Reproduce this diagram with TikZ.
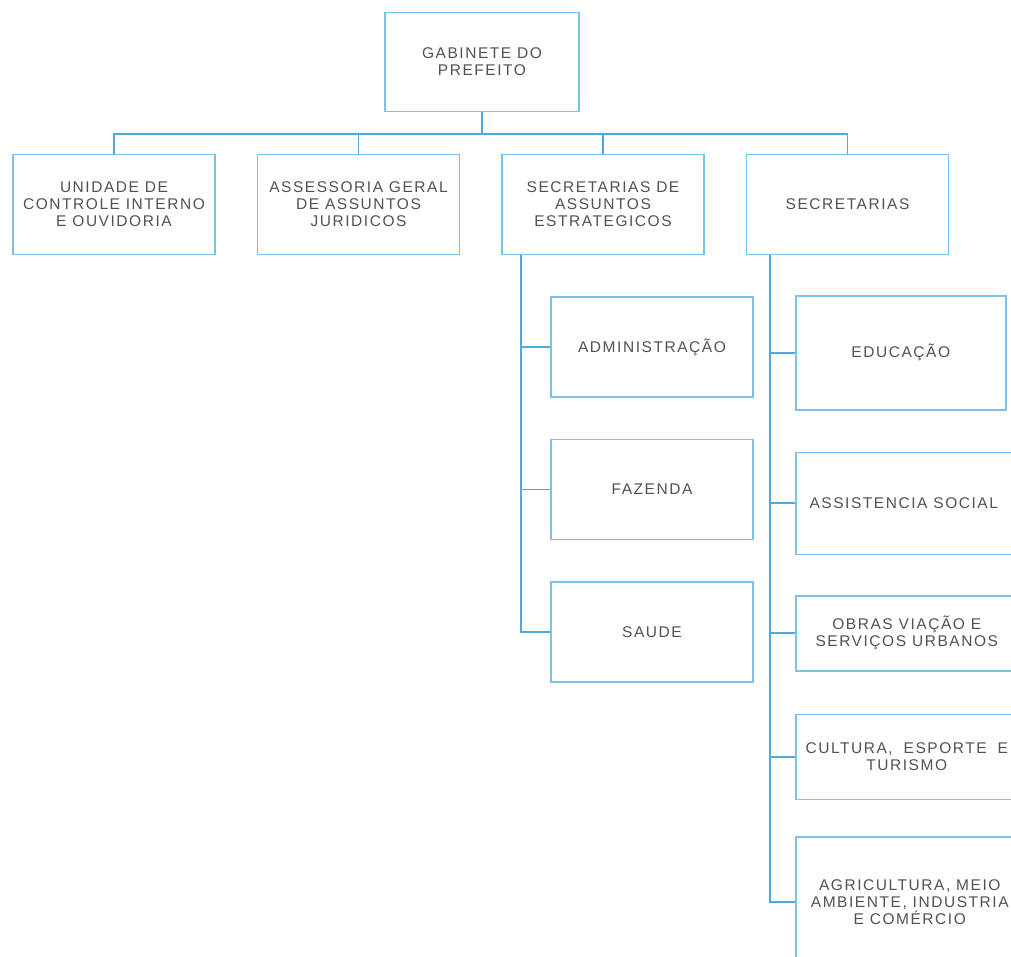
\documentclass[tikz,border=0pt]{standalone}
\usepackage{fontspec}
\newfontfamily\rotulo[LetterSpace=10]{Liberation Sans}
\usetikzlibrary{positioning}
\definecolor{borda}{RGB}{120,195,230}
\definecolor{linha}{RGB}{80,168,220}
\tikzstyle{caixa} = [rectangle, align=center, draw=borda, line width=1.5pt, text=black!68, inner sep=2pt, font=\rotulo\fontsize{15.5}{17}\selectfont]
\tikzstyle{chefe} = [caixa, minimum width=194pt, minimum height=99pt]
\tikzstyle{orgao} = [caixa, minimum width=202pt, minimum height=100pt]
\tikzstyle{secretaria} = [caixa, anchor=north west]
\tikzstyle{ligacao} = [draw=linha, line width=1.7pt]

\begin{document}
\begin{tikzpicture}[x=1pt, y=-1pt]
    \useasboundingbox (0,0) rectangle (1011,956);
    \clip (0,0) rectangle (1011,956);
    \node (gabinete) [chefe] at (482,62) {GABINETE DO\\PREFEITO};
    \node (controle) [orgao] at (114,204.5) {UNIDADE DE\\CONTROLE INTERNO\\E OUVIDORIA};
    \node (juridico) [orgao, right=41pt of controle] {ASSESSORIA GERAL\\DE ASSUNTOS\\JURIDICOS};
    \node (estrategico) [orgao, right=41pt of juridico] {SECRETARIAS DE\\ASSUNTOS\\ESTRATEGICOS};
    \node (secretarias) [orgao, right=41pt of estrategico] {SECRETARIAS};
    \node (administracao) [orgao] at (652,347) {ADMINISTRAÇÃO};
    \node (fazenda) [orgao, below=41pt of administracao] {FAZENDA};
    \node (saude) [orgao, below=41pt of fazenda] {SAUDE};
    \node (educacao) [secretaria, minimum width=210pt, minimum height=114pt] at (795,295) {EDUCAÇÃO};
    \node (social) [secretaria, minimum width=216pt, minimum height=102pt, below=41pt of educacao.south west, anchor=north west] {ASSISTENCIA SOCIAL};
    \node (obras) [secretaria, minimum width=222pt, minimum height=75pt, below=40pt of social.south west, anchor=north west] {OBRAS VIAÇÃO E\\SERVIÇOS URBANOS};
    \node (cultura) [secretaria, minimum width=222pt, minimum height=85pt, below=42pt of obras.south west, anchor=north west] {CULTURA,\hspace{5pt} ESPORTE\hspace{5pt} E\\TURISMO};
    \node (agricultura) [secretaria, minimum width=228pt, minimum height=130pt, below=36pt of cultura.south west, anchor=north west] {AGRICULTURA, MEIO\\AMBIENTE, INDUSTRIA\\E COMÉRCIO};

    \coordinate (barra) at (482,134);
    \draw [ligacao] (gabinete.south) -- (barra);
    \draw [ligacao] (controle.north) |- (barra) -| (secretarias.north);
    \draw [ligacao] (juridico.north) -- (juridico.north |- barra);
    \draw [ligacao] (estrategico.north) -- (estrategico.north |- barra);

    \coordinate (eixoesq) at ([xshift=20pt]estrategico.south west);
    \draw [ligacao] (eixoesq) |- (saude.west);
    \draw [ligacao] (administracao.west) -- (administracao.west -| eixoesq);
    \draw [ligacao] (fazenda.west) -- (fazenda.west -| eixoesq);

    \coordinate (eixodir) at ([xshift=24pt]secretarias.south west);
    \draw [ligacao] (eixodir) |- (agricultura.west);
    \draw [ligacao] (educacao.west) -- (educacao.west -| eixodir);
    \draw [ligacao] (social.west) -- (social.west -| eixodir);
    \draw [ligacao] (obras.west) -- (obras.west -| eixodir);
    \draw [ligacao] (cultura.west) -- (cultura.west -| eixodir);
\end{tikzpicture}
\end{document}
